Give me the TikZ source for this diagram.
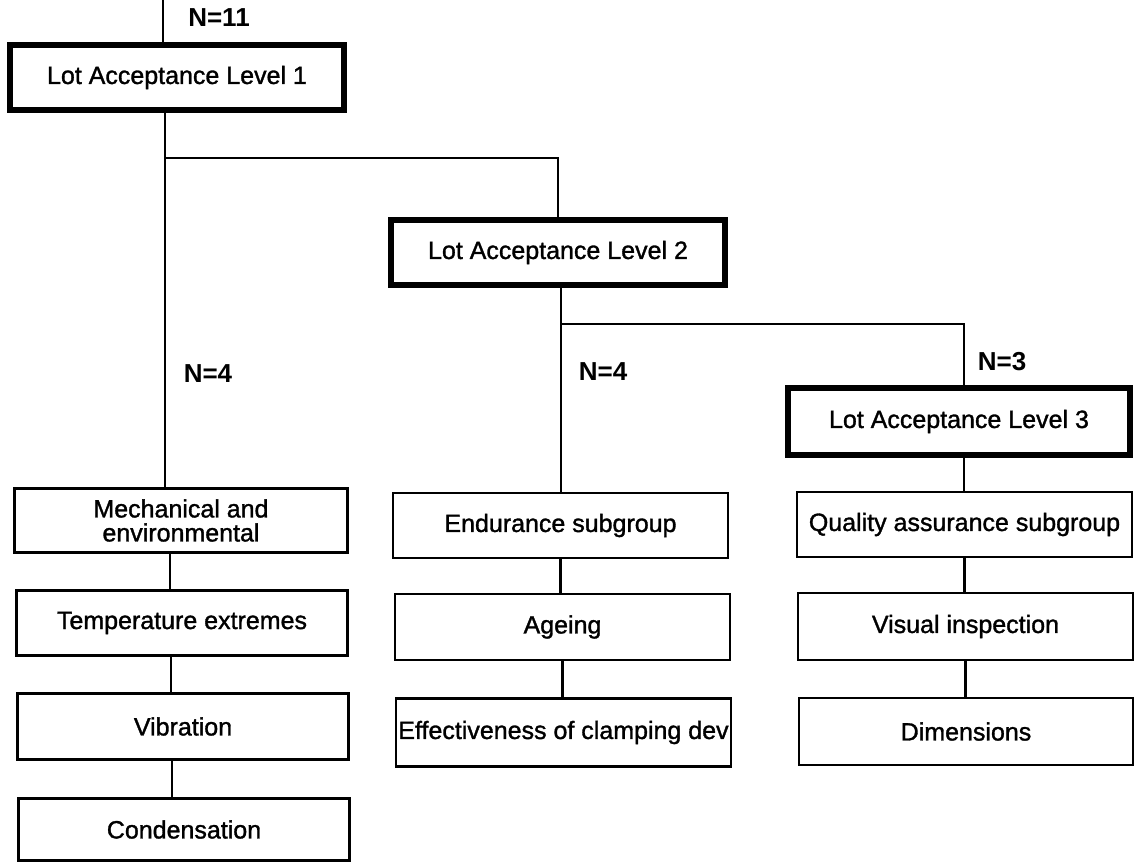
\documentclass[tikz,border=0pt]{standalone}
\usepackage{fontspec}
\setmainfont{Liberation Sans}
\newfontfamily\heavysans[FakeBold=1.3]{Liberation Sans}
\begin{document}
\begin{tikzpicture}[x=1pt,y=-1pt,
  thinbox/.style={draw=black,line width=2.2pt,inner sep=0pt,align=center,
    font=\heavysans\fontsize{25}{24}\selectfont},
  thickbox/.style={draw=black,line width=6.5pt,inner sep=0pt,align=center,
    font=\heavysans\fontsize{25}{24}\selectfont},
  nlabel/.style={inner sep=0pt,font=\bfseries\fontsize{26}{28}\selectfont},
  conn/.style={line width=2.2pt}]
\useasboundingbox (0,0) rectangle (1135,863);
% level boxes
\node[thickbox,minimum width=334pt,minimum height=65pt] (box1) at (177,77.5) {Lot Acceptance Level 1};
\node[thickbox,minimum width=334pt,minimum height=65pt] (box2) at (558,252.5) {Lot Acceptance Level 2};
\node[thickbox,minimum width=342pt,minimum height=67pt] (box3) at (959,421.5) {Lot Acceptance Level 3};
% left column
\node[thinbox,minimum width=333pt,minimum height=64pt] (mech) at (181,520.5) {Mechanical and\\environmental};
\node[thinbox,minimum width=331pt,minimum height=65pt] (temp) at (182,623) {Temperature extremes};
\node[thinbox,minimum width=331pt,minimum height=66pt] (vib) at (183,726.5) {Vibration};
\node[thinbox,minimum width=331pt,minimum height=62pt] (cond) at (184,829.5) {Condensation};
% middle column
\node[thinbox,minimum width=335pt,minimum height=65pt] (endu) at (560.5,525.5) {Endurance subgroup};
\node[thinbox,minimum width=335pt,minimum height=66pt] (age) at (562.5,627) {Ageing};
\node[thinbox,minimum width=335pt,minimum height=68pt] (eff) at (563.5,732.5) {Effectiveness of clamping dev};
% right column
\node[thinbox,minimum width=335pt,minimum height=65pt] (qual) at (964.5,524.5) {Quality assurance subgroup};
\node[thinbox,minimum width=335pt,minimum height=67pt] (vis) at (965.5,626.5) {Visual inspection};
\node[thinbox,minimum width=334pt,minimum height=67pt] (dim) at (966,731.5) {Dimensions};
% N labels
\node[nlabel] (n11) at (219,18) {N=11};
\node[nlabel] (n4a) at (208,374) {N=4};
\node[nlabel] (n4b) at (603,372) {N=4};
\node[nlabel] (n3) at (1002,362) {N=3};
% connector coordinates
\coordinate (top) at (163,0);
\coordinate (c1) at (165,0);
\coordinate (j1) at (165,158);
\coordinate (c2) at (561,0);
\coordinate (j2) at (561,324);
\coordinate (c3) at (964,0);
% connectors
\draw[conn] (top) -- (top |- box1.north);
\draw[conn] (box1.south -| c1) -- (mech.north -| c1);
\draw[conn] (j1) -- (j1 -| box2.north) -- (box2.north);
\draw[conn] (box2.south -| c2) -- (endu.north -| c2);
\draw[conn] (j2) -- (j2 -| c3) -- (box3.north -| c3);
\draw[conn] (box3.south -| c3) -- (qual.north -| c3);
\draw[conn] ([xshift=-11pt]mech.south) -- ([xshift=-11pt]mech.south |- temp.north);
\draw[conn] ([xshift=-11pt]temp.south) -- ([xshift=-11pt]temp.south |- vib.north);
\draw[conn] ([xshift=-11pt]vib.south) -- ([xshift=-11pt]vib.south |- cond.north);
\draw[conn] (endu.south) -- (endu.south |- age.north);
\draw[conn] (age.south) -- (age.south |- eff.north);
\draw[conn] (qual.south) -- (qual.south |- vis.north);
\draw[conn] (vis.south) -- (vis.south |- dim.north);
\end{tikzpicture}
\end{document}
